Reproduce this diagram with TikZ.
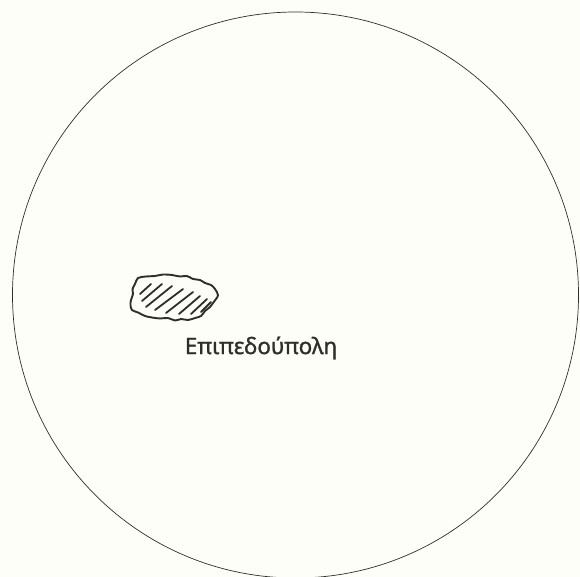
\documentclass[tikz,border=0pt]{standalone}
\usepackage{fontspec}
\newfontfamily\greekfont[Script=Greek,FakeBold=1.2]{Noto Sans}
\definecolor{paper}{RGB}{254,254,249}
\definecolor{ink}{RGB}{45,48,40}
\begin{document}
\begin{tikzpicture}[x=1pt,y=-1pt]
        \fill[paper] (0,0) rectangle (580,577);
        \useasboundingbox (0,0) rectangle (580,577);
        % the world
        \draw[ink,line width=0.7pt] (295.5,295) circle (283);
        % the city
        \draw[ink,line width=1.9pt,line join=round]
            plot[smooth cycle,tension=0.55] coordinates {(138,278) (146,276.5) (155,276)
            (163,274.5) (172,275) (180,276.5) (187,276) (193,279) (200,280) (205,283)
            (211,285) (215,289) (218,295) (216,299) (213,303) (210,307) (205,311)
            (201,316) (195,318) (188,320) (181,319) (175,320.5) (168,318) (160,318.5)
            (152,317.5) (145,316) (138,312.5) (132,310) (130.5,305) (131,300)
            (133,294) (132.5,289) (135,284)};
        \foreach \xa/\ya/\xb/\yb in {140/294/151/284, 142/301/162/284, 146/307/172/286,
                155/310/183/289, 166/313/193/292, 179/314/200/296, 191/314/207/299,
                201/312/211/302}
            \draw[ink,line width=1.8pt,line cap=round] (\xa,\ya) -- (\xb,\yb);
        \node[ink,font=\greekfont\fontsize{22.5}{22.5}\selectfont] (cityname)
            at (261,348) {Επιπεδούπολη};
    \end{tikzpicture}
\end{document}
